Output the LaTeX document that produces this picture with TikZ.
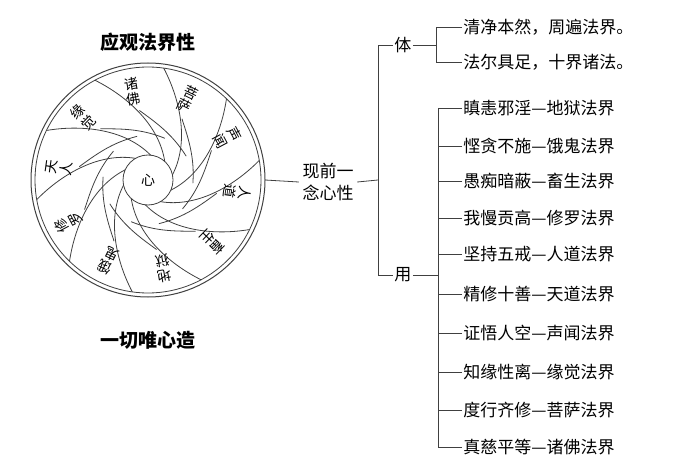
\documentclass[tikz,border=0pt]{standalone}
\usepackage{fontspec}
\usetikzlibrary{calc}
\newfontfamily\cjk{Noto Sans CJK SC}
\begin{document}
\begin{tikzpicture}[x=1pt,y=-1pt,line width=0.8pt,draw=black!75,
  txt/.style={font=\cjk\fontsize{17}{20}\selectfont,anchor=west,inner sep=1pt},
  ttl/.style={font=\cjk\bfseries\fontsize{19}{22}\selectfont},
  wl/.style={font=\cjk\fontsize{14}{15}\selectfont,align=center,inner sep=0pt}]
\useasboundingbox (0,0) rectangle (700,470);
\coordinate (c) at (148,180);
\node[ttl] (t1) at (148,42) {应观法界性};
\node[ttl] (t2) at (148,340) {一切唯心造};
\draw[line width=1pt] (c) circle (117);
\draw (c) circle (113);
\node[circle,draw,minimum size=50pt,font=\cjk\fontsize{14}{14}\selectfont] (xin) at (c) {心};
\begin{scope}[yscale=-1]
\foreach \a in {12,48,...,336}{
  \draw ($(c)+(\a:25)$) .. controls ($(c)+(\a+30:55)$) and ($(c)+(\a+55:85)$) .. ($(c)+(\a+70:113)$);
  \draw ($(c)+(\a+20:45)$) .. controls ($(c)+(\a+50:52)$) and ($(c)+(\a+70:58)$) .. ($(c)+(\a+85:70)$);
}
\foreach \a/\t in {100/诸\\佛,64/菩\\萨,28/声\\闻,-8/人\\道,-44/畜\\生,-80/地\\狱,-116/饿\\鬼,-152/修\\罗,172/天\\人,136/缘\\觉}{
  \node[wl,rotate=\a-90] at ($(c)+(\a:90)$) {\t};
}
\end{scope}
\node[font=\cjk\fontsize{17}{22}\selectfont,align=left] (xq) at (328,182) {现前一\\念心性};
\draw (265,180) -- (xq.west);
\draw (xq.east) -- (378,180);
\node[txt] (ti) at (393,45) {体};
\node[txt] (yong) at (393,275) {用};
\draw (ti.west) -- (378,45) -- (378,275) -- (yong.west);
\draw (ti.east) -- (436,45);
\node[txt] (a1) at (462,27) {清净本然，周遍法界。};
\node[txt] (a2) at (462,62) {法尔具足，十界诸法。};
\draw (a1.west) -- (436,27) -- (436,62) -- (a2.west);
\draw (yong.east) -- (438,275);
\draw (438,108) -- (438,447);
\foreach \y/\t [count=\i] in {108/瞋恚邪淫—地狱法界,146/悭贪不施—饿鬼法界,181/愚痴暗蔽—畜生法界,218/我慢贡高—修罗法界,254/坚持五戒—人道法界,294/精修十善—天道法界,333/证悟人空—声闻法界,372/知缘性离—缘觉法界,410/度行齐修—菩萨法界,447/真慈平等—诸佛法界}{
  \node[txt] (r\i) at (462,\y) {\t};
  \draw (r\i.west) -- (438,\y);
}
\end{tikzpicture}
\end{document}
